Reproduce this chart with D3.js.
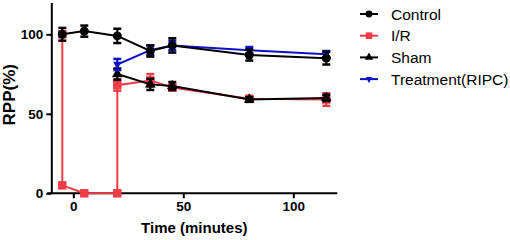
<!DOCTYPE html>
<html>
<head>
<meta charset="utf-8">
<script src="https://cdn.jsdelivr.net/npm/d3@7/dist/d3.min.js"></script>
<style>
  body { margin: 0; background: #fff; }
  text { font-family: "Liberation Sans", Arial, sans-serif; }
</style>
</head>
<body>
<div id="chart"></div>
<script>
// data
const controlX = [-5, 5, 20, 35, 45, 80, 115];
const controlY = [100, 102, 99, 89.5, 93, 87, 85];
const controlErr = [4, 3.5, 4.5, 3.5, 4.5, 3.5, 4];

const irX = [-5, -5, 5, 20, 20, 35, 45, 80, 115];
const irY = [100, 5, 0, 0, 68, 71, 66.5, 59.5, 59];
const irErr = [0, 0, 0, 0, 3.5, 4, 2, 1, 4];

const shamX = [20, 35, 45, 80, 115];
const shamY = [75, 68.5, 67.5, 59, 60];
const shamErr = [3.5, 3.5, 2.5, 1.5, 2];

const treatX = [20, 35, 45, 80, 115];
const treatY = [81, 90, 93, 90, 87.5];
const treatErr = [3.5, 3, 3, 2, 2];

const xTicks = [0, 50, 100];
const yTicks = [0, 50, 100];

const series = [
  { name: "I/R", x: irX, y: irY, err: irErr, color: "#f03c46", shape: d3.symbolSquare, size: 72 },
  { name: "Sham", x: shamX, y: shamY, err: shamErr, color: "#000", shape: d3.symbolTriangle, size: 50 },
  { name: "Treatment(RIPC)", x: treatX, y: treatY, err: treatErr, color: "#1010c8", shape: "down", size: 50 },
  { name: "Control", x: controlX, y: controlY, err: controlErr, color: "#000", shape: d3.symbolCircle, size: 64 }
];
const legendOrder = ["Control", "I/R", "Sham", "Treatment(RIPC)"];

const width = 510, height = 240;
const svg = d3.select("#chart").append("svg")
  .attr("width", width)
  .attr("height", height);

const x = d3.scaleLinear().domain([-10, 120]).range([51.3, 337.3]);
const y = d3.scaleLinear().domain([0, 120]).range([193.3, 2.5]);

// axes
const xAxis = svg.append("g")
  .attr("transform", `translate(0, ${y(0)})`)
  .call(d3.axisBottom(x).tickValues(xTicks).tickSize(5).tickPadding(3).tickSizeOuter(0));
xAxis.select(".domain").attr("d", `M${x(-10) - 4},0H${x(120)}`);

const yAxis = svg.append("g")
  .attr("transform", `translate(${x(-10)}, 0)`)
  .call(d3.axisLeft(y).tickValues(yTicks).tickSize(5).tickPadding(3).tickSizeOuter(0));

svg.selectAll(".domain, .tick line").attr("stroke", "#000").attr("stroke-width", 2);
svg.selectAll(".tick text")
  .attr("font-size", 13.5).attr("font-weight", "bold").attr("fill", "#000")
  .style("font-family", "Liberation Sans, Arial, sans-serif");

svg.append("text")
  .attr("x", x(55)).attr("y", 233)
  .attr("text-anchor", "middle")
  .attr("font-size", 15).attr("font-weight", "bold")
  .text("Time (minutes)");

svg.append("text")
  .attr("transform", `translate(15, ${y(62)}) rotate(-90)`)
  .attr("text-anchor", "middle")
  .attr("font-size", 17).attr("font-weight", "bold")
  .text("RPP(%)");

const downTri = {
  draw(ctx, size) {
    const h = Math.sqrt(size * 1.3);
    ctx.moveTo(-h / 2, -h / 3);
    ctx.lineTo(h / 2, -h / 3);
    ctx.lineTo(0, h * 2 / 3);
    ctx.closePath();
  }
};
const symFor = s => d3.symbol().type(s.shape === "down" ? downTri : s.shape).size(s.size);

const line = d3.line().x(d => x(d[0])).y(d => y(d[1]));

series.forEach(s => {
  const pts = s.x.map((v, i) => [v, s.y[i], s.err[i]]);
  const g = svg.append("g");
  g.append("path")
    .attr("d", line(pts))
    .attr("fill", "none")
    .attr("stroke", s.color)
    .attr("stroke-width", 2);

  const eb = g.selectAll(".eb").data(pts.filter(d => d[2] > 0)).enter().append("g");
  eb.append("line")
    .attr("x1", d => x(d[0])).attr("x2", d => x(d[0]))
    .attr("y1", d => y(d[1] - d[2])).attr("y2", d => y(d[1] + d[2]))
    .attr("stroke", s.color).attr("stroke-width", 2);
  [-1, 1].forEach(k => {
    eb.append("line")
      .attr("x1", d => x(d[0]) - 4).attr("x2", d => x(d[0]) + 4)
      .attr("y1", d => y(d[1] + k * d[2])).attr("y2", d => y(d[1] + k * d[2]))
      .attr("stroke", s.color).attr("stroke-width", 2.5);
  });

  g.selectAll(".pt").data(pts).enter().append("path")
    .attr("transform", d => `translate(${x(d[0])}, ${y(d[1])})`)
    .attr("d", symFor(s))
    .attr("fill", s.color);
});

// legend
const legend = svg.append("g")
  .attr("transform", "translate(360, 14)")
  .selectAll(".item")
  .data(legendOrder.map(n => series.find(s => s.name === n)))
  .enter().append("g")
  .attr("transform", (d, i) => `translate(0, ${i * 21.7})`);

legend.append("line")
  .attr("x1", 0).attr("x2", 18)
  .attr("stroke", d => d.color).attr("stroke-width", 2);
legend.append("path")
  .attr("transform", "translate(9, 0)")
  .attr("d", d => symFor({ shape: d.shape, size: d.size * 0.6 })())
  .attr("fill", d => d.color);
legend.append("text")
  .attr("x", 31).attr("dy", 5.5)
  .attr("font-size", 15.5)
  .attr("fill", "#000")
  .text(d => d.name);
</script>
</body>
</html>
